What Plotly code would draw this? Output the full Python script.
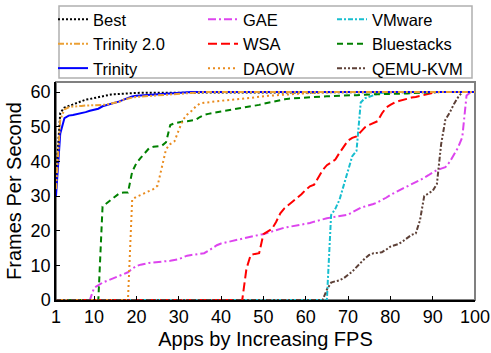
import plotly.graph_objects as go

# Apps are ranked 1..100 by their measured frame rate
apps = list(range(1, 101))

best = [
    35.0, 54.0, 55.5, 56.0, 56.5, 57.0, 57.5, 57.8, 58.0, 58.3,
    58.6, 58.9, 59.1, 59.3, 59.4, 59.5, 59.6, 59.6, 59.7, 59.7,
    59.8, 59.8, 59.8, 59.9, 59.9, 59.9, 59.9, 60.0, 60.0, 60.0,
    60.0, 60.0, 60.0, 60.0, 60.0, 60.0, 60.0, 60.0, 60.0, 60.0,
    60.0, 60.0, 60.0, 60.0, 60.0, 60.0, 60.0, 60.0, 60.0, 60.0,
    60.0, 60.0, 60.0, 60.0, 60.0, 60.0, 60.0, 60.0, 60.0, 60.0,
    60.0, 60.0, 60.0, 60.0, 60.0, 60.0, 60.0, 60.0, 60.0, 60.0,
    60.0, 60.0, 60.0, 60.0, 60.0, 60.0, 60.0, 60.0, 60.0, 60.0,
    60.0, 60.0, 60.0, 60.0, 60.0, 60.0, 60.0, 60.0, 60.0, 60.0,
    60.0, 60.0, 60.0, 60.0, 60.0, 60.0, 60.0, 60.0, 60.0, 60.0,
]

trinity2 = [
    32.0, 52.0, 55.0, 55.6, 55.8, 56.0, 56.0, 56.1, 56.1, 56.2,
    56.2, 56.3, 56.4, 56.6, 56.8, 57.2, 57.8, 58.2, 58.4, 58.6,
    58.7, 58.8, 58.9, 59.0, 59.1, 59.2, 59.3, 59.4, 59.5, 59.6,
    59.7, 59.8, 59.8, 59.9, 59.9, 60.0, 60.0, 60.0, 60.0, 60.0,
    60.0, 60.0, 60.0, 60.0, 60.0, 60.0, 60.0, 60.0, 60.0, 60.0,
    60.0, 60.0, 60.0, 60.0, 60.0, 60.0, 60.0, 60.0, 60.0, 60.0,
    60.0, 60.0, 60.0, 60.0, 60.0, 60.0, 60.0, 60.0, 60.0, 60.0,
    60.0, 60.0, 60.0, 60.0, 60.0, 60.0, 60.0, 60.0, 60.0, 60.0,
    60.0, 60.0, 60.0, 60.0, 60.0, 60.0, 60.0, 60.0, 60.0, 60.0,
    60.0, 60.0, 60.0, 60.0, 60.0, 60.0, 60.0, 60.0, 60.0, 60.0,
]

trinity = [
    30.0, 48.0, 52.5, 53.2, 53.4, 53.6, 53.8, 54.2, 54.6, 54.8,
    55.2, 55.9, 56.2, 56.6, 57.0, 57.3, 57.8, 58.3, 58.7, 58.9,
    59.0, 59.1, 59.2, 59.3, 59.4, 59.5, 59.5, 59.6, 59.7, 59.8,
    59.9, 60.0, 60.0, 60.0, 60.0, 60.0, 60.0, 60.0, 60.0, 60.0,
    60.0, 60.0, 60.0, 60.0, 60.0, 60.0, 60.0, 60.0, 60.0, 60.0,
    60.0, 60.0, 60.0, 60.0, 60.0, 60.0, 60.0, 60.0, 60.0, 60.0,
    60.0, 60.0, 60.0, 60.0, 60.0, 60.0, 60.0, 60.0, 60.0, 60.0,
    60.0, 60.0, 60.0, 60.0, 60.0, 60.0, 60.0, 60.0, 60.0, 60.0,
    60.0, 60.0, 60.0, 60.0, 60.0, 60.0, 60.0, 60.0, 60.0, 60.0,
    60.0, 60.0, 60.0, 60.0, 60.0, 60.0, 60.0, 60.0, 60.0, 60.0,
]

gae = [
    0.0, 0.0, 0.0, 0.0, 0.0, 0.0, 0.0, 0.0, 0.0, 3.5,
    4.3, 5.0, 5.5, 6.0, 6.5, 7.0, 7.5, 8.0, 9.0, 9.8,
    10.2, 10.5, 10.7, 10.8, 11.0, 11.1, 11.2, 11.3, 11.5, 11.8,
    12.3, 12.8, 13.0, 13.1, 13.3, 13.5, 14.2, 15.0, 15.8, 16.3,
    16.6, 16.9, 17.1, 17.4, 17.7, 18.0, 18.3, 18.5, 18.8, 19.0,
    19.4, 19.8, 20.3, 20.7, 20.9, 21.1, 21.3, 21.5, 21.7, 21.9,
    22.2, 22.6, 23.0, 23.3, 23.6, 23.8, 24.0, 24.2, 24.4, 24.6,
    25.3, 26.0, 26.6, 27.0, 27.3, 27.7, 28.2, 28.8, 29.5, 30.3,
    31.0, 31.6, 32.2, 32.8, 33.5, 34.0, 34.6, 35.2, 36.0, 36.8,
    37.5, 37.9, 38.3, 39.8, 41.8, 44.0, 47.0, 59.0, 60.0, 60.0,
]

wsa = [
    0.0, 0.0, 0.0, 0.0, 0.0, 0.0, 0.0, 0.0, 0.0, 0.0,
    0.0, 0.0, 0.0, 0.0, 0.0, 0.0, 0.0, 0.0, 0.0, 0.0,
    0.0, 0.0, 0.0, 0.0, 0.0, 0.0, 0.0, 0.0, 0.0, 0.0,
    0.0, 0.0, 0.0, 0.0, 0.0, 0.0, 0.0, 0.0, 0.0, 0.0,
    0.0, 0.0, 0.0, 0.0, 0.0, 9.0, 13.0, 13.3, 13.5, 19.0,
    19.8, 20.5, 22.5, 25.0, 26.5, 27.6, 28.5, 29.5, 30.5, 31.8,
    32.8, 33.3, 35.3, 37.5, 38.9, 39.6, 40.5, 42.5, 44.2, 46.0,
    46.8, 47.2, 48.5, 49.8, 50.5, 51.0, 51.6, 53.8, 55.5, 56.3,
    57.0, 57.4, 57.8, 58.1, 58.4, 58.6, 58.9, 59.2, 59.5, 59.8,
    60.0, 60.0, 60.0, 60.0, 60.0, 60.0, 60.0, 60.0, 60.0, 60.0,
]

daow = [
    0.0, 0.0, 0.0, 0.0, 0.0, 0.0, 0.0, 0.0, 0.0, 0.0,
    0.0, 0.0, 0.0, 0.0, 0.0, 0.0, 0.0, 0.0, 29.0, 29.8,
    30.3, 30.8, 31.5, 32.0, 33.0, 38.0, 43.5, 45.0, 45.8, 49.0,
    52.0, 53.5, 54.5, 55.8, 56.7, 56.9, 57.1, 57.2, 57.4, 57.5,
    57.6, 57.7, 57.8, 57.9, 57.9, 58.1, 58.3, 58.5, 58.7, 58.8,
    58.9, 59.0, 59.1, 59.2, 59.2, 59.3, 59.4, 59.4, 59.5, 59.6,
    59.7, 59.8, 59.8, 59.9, 60.0, 60.0, 60.0, 60.0, 60.0, 60.0,
    60.0, 60.0, 60.0, 60.0, 60.0, 60.0, 60.0, 60.0, 60.0, 60.0,
    60.0, 60.0, 60.0, 60.0, 60.0, 60.0, 60.0, 60.0, 60.0, 60.0,
    60.0, 60.0, 60.0, 60.0, 60.0, 60.0, 60.0, 60.0, 60.0, 60.0,
]

vmware = [
    0.0, 0.0, 0.0, 0.0, 0.0, 0.0, 0.0, 0.0, 0.0, 0.0,
    0.0, 0.0, 0.0, 0.0, 0.0, 0.0, 0.0, 0.0, 0.0, 0.0,
    0.0, 0.0, 0.0, 0.0, 0.0, 0.0, 0.0, 0.0, 0.0, 0.0,
    0.0, 0.0, 0.0, 0.0, 0.0, 0.0, 0.0, 0.0, 0.0, 0.0,
    0.0, 0.0, 0.0, 0.0, 0.0, 0.0, 0.0, 0.0, 0.0, 0.0,
    0.0, 0.0, 0.0, 0.0, 0.0, 0.0, 0.0, 0.0, 0.0, 0.0,
    0.0, 0.0, 0.0, 0.0, 0.0, 24.5, 26.3, 29.0, 33.0, 37.0,
    41.5, 43.0, 57.0, 58.2, 58.7, 59.1, 59.5, 59.8, 60.0, 60.0,
    60.0, 60.0, 60.0, 60.0, 60.0, 60.0, 60.0, 60.0, 60.0, 60.0,
    60.0, 60.0, 60.0, 60.0, 60.0, 60.0, 60.0, 60.0, 60.0, 60.0,
]

bluestacks = [
    0.0, 0.0, 0.0, 0.0, 0.0, 0.0, 0.0, 0.0, 0.0, 0.0,
    0.0, 27.0, 28.0, 29.0, 30.0, 30.8, 31.0, 31.0, 37.0, 39.5,
    41.0, 42.5, 43.8, 44.2, 44.3, 44.5, 45.5, 50.5, 51.0, 51.3,
    51.5, 51.6, 51.8, 52.0, 52.8, 53.4, 53.7, 54.0, 54.2, 54.4,
    54.6, 54.8, 55.0, 55.2, 55.3, 55.5, 55.8, 56.0, 56.3, 56.6,
    56.9, 57.2, 57.5, 57.7, 57.9, 58.1, 58.2, 58.3, 58.4, 58.5,
    58.6, 58.6, 58.7, 58.7, 58.8, 58.8, 58.9, 58.9, 59.0, 59.0,
    59.1, 59.1, 59.2, 59.2, 59.3, 59.3, 59.4, 59.4, 59.4, 59.5,
    59.5, 59.5, 59.6, 59.6, 59.7, 59.7, 59.8, 59.8, 59.9, 59.9,
    60.0, 60.0, 60.0, 60.0, 60.0, 60.0, 60.0, 60.0, 60.0, 60.0,
]

qemu_kvm = [
    0.0, 0.0, 0.0, 0.0, 0.0, 0.0, 0.0, 0.0, 0.0, 0.0,
    0.0, 0.0, 0.0, 0.0, 0.0, 0.0, 0.0, 0.0, 0.0, 0.0,
    0.0, 0.0, 0.0, 0.0, 0.0, 0.0, 0.0, 0.0, 0.0, 0.0,
    0.0, 0.0, 0.0, 0.0, 0.0, 0.0, 0.0, 0.0, 0.0, 0.0,
    0.0, 0.0, 0.0, 0.0, 0.0, 0.0, 0.0, 0.0, 0.0, 0.0,
    0.0, 0.0, 0.0, 0.0, 0.0, 0.0, 0.0, 0.0, 0.0, 0.0,
    0.0, 0.0, 0.0, 0.0, 3.0, 5.0, 5.4, 5.7, 6.3, 7.2,
    8.2, 9.5, 10.8, 12.0, 13.0, 13.5, 13.6, 13.8, 14.5, 15.4,
    15.8, 16.2, 17.0, 18.0, 18.8, 19.2, 23.0, 30.0, 30.8, 31.5,
    33.5, 45.0, 52.0, 54.0, 56.5, 58.5, 60.0, 60.0, 60.0, 60.0,
]

x_ticks = [1, 10, 20, 30, 40, 50, 60, 70, 80, 90, 100]
y_ticks = [0, 10, 20, 30, 40, 50, 60]

FONT = "Liberation Sans, Arial, sans-serif"

# name, values, colour, dash, legend column, row in column
series = [
    ("Best", best, "#000000", "2px,2px", "legend", 1),
    ("GAE", gae, "#DD44EE", "8px,3px,2px,3px", "legend2", 1),
    ("VMware", vmware, "#17BECF", "5px,2px,2px,2px", "legend3", 1),
    ("WSA", wsa, "#FF0000", "9px,4px", "legend2", 2),
    ("Bluestacks", bluestacks, "#008000", "6px,4px", "legend3", 2),
    ("DAOW", daow, "#E98B1E", "2px,3px", "legend2", 3),
    ("QEMU-KVM", qemu_kvm, "#5D4037", "5px,2px,2px,2px,2px,2px", "legend3", 3),
    ("Trinity", trinity, "#0000FF", "solid", "legend", 3),
    ("Trinity 2.0", trinity2, "#EBA034", "6px,2px,2px,2px,2px,2px", "legend", 2),
]

fig = go.Figure()
for name, vals, color, dash, leg, rank in series:
    fig.add_trace(go.Scatter(
        x=apps, y=vals, mode="lines", name=name,
        line=dict(color=color, width=2, dash=dash),
        legend=leg, legendrank=rank,
    ))

W, H = 491, 353
ML, MR, MT, MB = 56, 16, 82, 53
PW, PH = W - ML - MR, H - MT - MB


def px_x(px):
    return (px - ML) / PW


def px_y(py):
    return (H - MB - py) / PH


legend_common = dict(
    orientation="v", xanchor="left", yanchor="top",
    bgcolor="rgba(0,0,0,0)", borderwidth=0,
    font=dict(family=FONT, size=16.5, color="#000000"),
    itemwidth=30, tracegroupgap=0, traceorder="normal",
)

fig.update_layout(
    width=W, height=H,
    margin=dict(l=ML, r=MR, t=MT, b=MB, pad=0, autoexpand=False),
    paper_bgcolor="white", plot_bgcolor="white",
    font=dict(family=FONT, size=18, color="#000000"),
    legend=dict(x=px_x(53), y=px_y(2), **legend_common),
    legend2=dict(x=px_x(203), y=px_y(2), **legend_common),
    legend3=dict(x=px_x(332), y=px_y(2), **legend_common),
    xaxis=dict(
        range=[1, 100], tickvals=x_ticks, ticktext=[str(v) for v in x_ticks],
        ticks="inside", ticklen=4, tickcolor="#000000",
        showline=True, linecolor="#000000", linewidth=1.5,
        showgrid=False, zeroline=False, automargin=False,
        tickfont=dict(size=18),
        title=dict(text="Apps by Increasing FPS", font=dict(size=20), standoff=6),
    ),
    yaxis=dict(
        range=[0, 62.9], tickvals=y_ticks,
        ticks="inside", ticklen=4, tickcolor="#000000",
        showline=True, linecolor="#000000", linewidth=1.5,
        showgrid=False, zeroline=False, automargin=False,
        tickfont=dict(size=18),
        title=dict(text="Frames Per Second", font=dict(size=20), standoff=4),
    ),
    shapes=[
        # plot frame (top and right edges in grey)
        dict(type="rect", xref="paper", yref="paper", x0=0, x1=1, y0=0, y1=1,
             line=dict(color="#808080", width=2), layer="below"),
        # legend box
        dict(type="rect", xref="paper", yref="paper",
             x0=px_x(59), x1=px_x(472), y0=px_y(78), y1=px_y(6),
             line=dict(color="#B0B0B0", width=1.5)),
    ],
)

fig.write_html("out.html")
